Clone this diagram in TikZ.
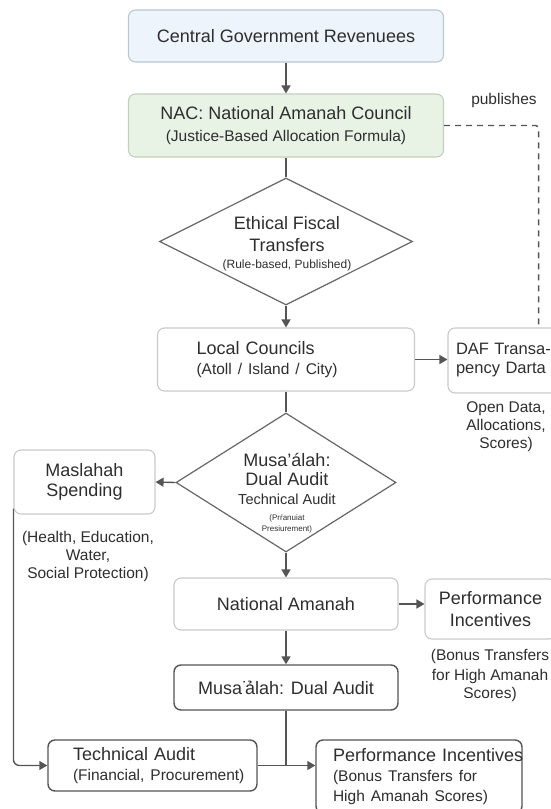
\documentclass[tikz,border=0pt]{standalone}
\usepackage{fontspec}
\setmainfont{Liberation Sans}
\usetikzlibrary{shapes.geometric,arrows.meta}
\definecolor{txt}{HTML}{2E2E2E}
\definecolor{gris}{HTML}{555555}
\definecolor{borde}{HTML}{CACACA}
\definecolor{azul}{HTML}{EEF4FC}
\definecolor{bordeazul}{HTML}{B9C6D3}
\definecolor{verde}{HTML}{E9F3E5}
\definecolor{bordeverde}{HTML}{C0D1BB}
\newcommand{\chica}[1]{{\fontsize{15.5}{19}\selectfont #1}}
\begin{document}
\begin{tikzpicture}[x=1pt,y=-1pt,
  caja/.style={draw=borde,line width=1.1pt,rounded corners=7pt,fill=white,
    text=txt,align=center,font=\fontsize{18}{22}\selectfont},
  cajaosc/.style={caja,draw=gris,line width=1.4pt},
  rombo/.style={diamond,draw=gris!90,line width=1.2pt,inner sep=0pt},
  texto/.style={text=txt,align=center,font=\fontsize{18}{22}\selectfont},
  nota/.style={text=txt,align=center,font=\fontsize{15.5}{19}\selectfont},
  conector/.style={draw=gris,line width=1.4pt},
  flecha/.style={conector,-{Triangle[length=8pt,width=9pt]}}]
\useasboundingbox (0,0) rectangle (550,809);
% Cajas de arriba
\node[caja,fill=azul,draw=bordeazul,minimum width=315pt,minimum height=52pt] (rev) at (286,36) {Central Government Revenuees};
\node[caja,fill=verde,draw=bordeverde,minimum width=315pt,minimum height=63pt] (nac) at (286,125.5) {NAC: National Amanah Council\\\chica{(Justice-Based Allocation Formula)}};
\node[nota] (pub) at (504,100) {publishes};
% Transferencias
\node[rombo,minimum width=253pt,minimum height=127pt] (eft) at (286,241.5) {};
\node[texto] (efttxt) at (287,244) {Ethical Fiscal\\Transfers\\[-5pt]{\fontsize{12}{14}\selectfont (Rule-based, Published)}};
\node[caja,minimum width=257pt,minimum height=63pt,text width=179pt,inner xsep=39pt,align=left] (local) at (286,359.5) {\mbox{Local Councils}\\[-2pt]\chica{\mbox{(Atoll / Island / City)}}};
\node[caja,minimum height=65pt,text width=101pt,inner xsep=8pt,align=left,font=\fontsize{16.5}{21}\selectfont] (daf) at (506.5,360.5) {\mbox{DAF Transa-}\\[-2pt]\mbox{pency Darta}};
\node[nota] (dafnota) at (506,427) {Open Data,\\[-1pt]Allocations,\\[-1pt]Scores)};
% Musa'alah
\node[rombo,minimum width=220pt,minimum height=139pt] (musa) at (286,482.5) {};
\node[texto] (musatxt) at (287,493) {Musa’álah:\\[-3pt]Dual Audit\\[-3pt]{\fontsize{14.5}{16}\selectfont Technical Audit}\\[-6pt]{\fontsize{8}{10}\selectfont (Prŕanuiat}\\[-11pt]{\fontsize{8}{10}\selectfont Presiurement)}};
\node[caja,minimum width=141pt,minimum height=64pt] (masl) at (84.5,482) {Maslahah\\[-2pt]Spending};
\node[nota] (maslnota) at (88,556) {(Health, Education,\\[-1pt]Water,\\[-1pt]Social Protection)};
% Amanah
\node[caja,minimum width=224pt,minimum height=52pt] (natam) at (286,604) {National Amanah};
\node[caja,minimum width=131pt,minimum height=60pt] (perf) at (490.5,609) {Performance\\Incentives};
\node[nota] (perfnota) at (490,675) {(Bonus Transfers\\[1pt]for High Amanah\\[-1pt]Scores)};
\node[cajaosc,minimum width=224pt,minimum height=45pt] (musabox) at (286,687.5) {Musa˙\kern-3pt ảlah: Dual Audit};
% Cajas de abajo
\node[cajaosc,minimum height=51pt,text width=159pt,inner xsep=25pt,align=left] (tec) at (152.5,765.5) {\mbox{Technical Audit}\\[-2pt]\chica{\mbox{(Financial, Procurement)}}};
\node[cajaosc,minimum height=73pt,text width=172pt,inner xsep=17pt,align=left] (perf2) at (419,776.5) {\mbox{Performance Incentives}\\[-2pt]\chica{\mbox{(Bonus Transfers for}}\\[-2pt]\chica{\mbox{High Amanah Scores)}}};
% Conectores
\draw[flecha] (rev) -- (nac);
\draw[conector] (nac) -- (eft);
\draw[flecha] (eft) -- (local);
\draw[flecha] (local.east) -- (local.east -| daf.west);
\draw[conector,dash pattern=on 6pt off 5pt,rounded corners=3pt] (nac.east) -| ([xshift=-27pt]daf.north east);
\draw[conector] (local) -- (musa);
\draw[flecha] (musa.west) -- (masl.east);
\draw[flecha] (musa) -- (natam);
\draw[flecha] (natam.east) -- (natam.east -| perf.west);
\draw[flecha] (natam) -- (musabox);
\draw[flecha,rounded corners=6pt] ([yshift=6pt]masl.south west) |- (tec.west);
\draw[flecha] (tec.east) -- (tec.east -| perf2.west);
\draw[conector] (musabox) -- (musabox.south |- tec.east);
\end{tikzpicture}
\end{document}
